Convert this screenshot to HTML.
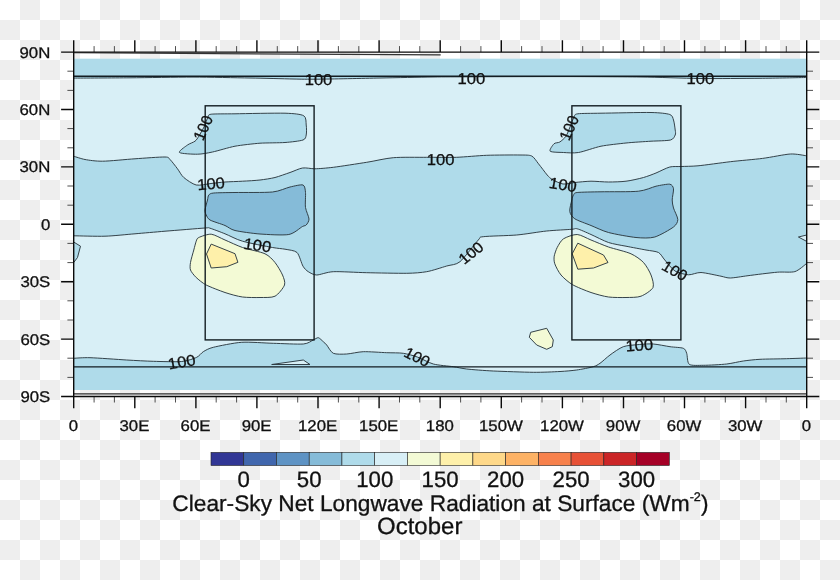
<!DOCTYPE html>
<html lang="en">
<head>
<meta charset="utf-8">
<title>Clear-Sky Net Longwave Radiation at Surface - October</title>
<style>
html,body{margin:0;padding:0;}
body{width:840px;height:580px;overflow:hidden;background-color:#fff;
background-image:conic-gradient(#eee 25%,#fff 0 50%,#eee 0 75%,#fff 0);
background-size:40px 40px;}
svg{display:block;position:absolute;left:0;top:0;}
</style>
</head>
<body>
<svg width="840" height="580" viewBox="0 0 840 580">
<defs><pattern id="chk" width="40" height="40" patternUnits="userSpaceOnUse"><rect width="40" height="40" fill="#fff"/><rect x="20" width="20" height="20" fill="#eee"/><rect y="20" width="20" height="20" fill="#eee"/></pattern></defs>
<rect width="840" height="580" fill="url(#chk)" shape-rendering="crispEdges"/>
<rect x="73.7" y="58.8" width="733.0" height="331.2" fill="#d8eff6"/>
<path d="M73.7 58.8 H806.7 L806.7 77.5 C800.6 77.6 773.9 78.2 760.0 78.3 C746.1 78.4 715.6 78.7 700.0 78.5 C684.4 78.3 658.2 77.2 640.0 77.0 C621.8 76.8 582.0 76.6 560.0 76.6 C538.0 76.6 487.5 76.7 471.0 76.8 C454.5 76.9 444.8 76.8 433.0 77.0 C421.2 77.2 394.9 77.7 380.0 78.0 C365.1 78.3 329.3 79.1 318.0 79.2 C306.7 79.3 301.8 79.2 293.0 79.0 C284.2 78.8 263.0 78.2 250.0 78.0 C237.0 77.8 208.6 77.1 193.0 77.1 C177.4 77.1 145.5 77.7 130.0 77.8 C114.5 77.9 81.0 78.1 73.7 78.1 Z" fill="#afdbea"/>
<path d="M73.7 358.3 C75.8 358.2 83.1 357.5 90.0 357.7 C96.9 357.9 118.5 359.5 126.7 360.0 C134.9 360.5 146.2 361.1 153.3 361.3 C160.5 361.5 176.1 362.0 181.7 361.5 C187.3 361.0 193.9 358.6 196.7 357.3 C199.5 356.0 201.1 353.0 203.3 351.7 C205.5 350.4 208.3 348.5 213.3 347.3 C218.3 346.1 233.9 342.8 241.7 342.3 C249.5 341.8 265.3 343.1 273.3 343.3 C281.3 343.5 298.1 344.4 303.3 344.0 C308.5 343.6 311.4 340.8 313.3 340.0 C315.2 339.2 317.0 337.5 318.3 337.7 C319.6 337.9 322.2 340.8 323.3 341.7 C324.4 342.6 325.4 343.5 326.7 345.0 C328.0 346.5 330.7 352.1 333.3 353.3 C335.9 354.5 342.8 354.2 346.7 354.0 C350.6 353.8 358.1 351.9 363.3 351.7 C368.5 351.5 381.5 352.5 386.7 352.7 C391.9 352.9 399.3 352.7 403.3 353.3 C407.3 353.9 413.4 355.6 417.3 357.0 C421.2 358.4 428.6 362.7 433.3 364.0 C438.0 365.3 449.0 366.1 453.3 366.7 C457.6 367.3 461.5 368.4 466.7 369.0 C471.9 369.6 484.6 370.6 493.3 371.0 C502.0 371.4 524.6 372.2 533.3 372.3 C542.0 372.4 554.4 371.8 560.0 371.5 C565.6 371.2 572.4 370.6 576.7 370.0 C581.0 369.4 590.3 367.6 593.3 366.7 C596.3 365.8 597.8 364.8 600.0 363.3 C602.2 361.8 607.0 357.2 610.0 355.0 C613.0 352.8 619.5 348.1 623.3 346.7 C627.1 345.3 635.4 344.9 639.3 344.5 C643.2 344.1 649.3 343.7 653.3 344.0 C657.3 344.3 666.1 346.1 670.0 346.7 C673.9 347.3 681.1 347.4 683.3 348.3 C685.5 349.2 685.9 351.2 686.7 353.3 C687.5 355.4 687.1 362.7 689.3 364.3 C691.5 365.9 698.4 365.3 703.3 365.3 C708.2 365.3 721.5 364.6 726.7 364.0 C731.9 363.4 739.0 361.6 743.3 361.0 C747.6 360.4 754.4 359.6 760.0 359.3 C765.6 359.0 780.6 358.9 786.7 358.7 C792.8 358.5 804.1 358.1 806.7 358.0 L806.7 390.0 H73.7 Z" fill="#afdbea"/>
<path d="M73.7 156.2 C75.2 156.7 81.3 158.8 85.0 159.5 C88.7 160.2 96.0 161.3 102.5 161.2 C109.0 161.2 126.9 159.3 135.0 158.8 C143.1 158.2 160.4 156.9 165.0 157.0 C169.6 157.1 168.4 158.0 170.0 159.5 C171.6 161.0 175.7 166.4 177.5 168.8 C179.3 171.1 181.3 175.4 183.8 177.5 C186.2 179.6 192.7 184.2 196.2 185.0 C199.8 185.8 207.3 183.9 211.0 183.5 C214.7 183.1 220.9 182.3 225.0 182.0 C229.1 181.7 237.9 181.5 242.5 181.2 C247.1 181.0 255.8 180.5 260.0 180.0 C264.2 179.5 271.1 178.5 275.0 177.5 C278.9 176.5 286.4 173.7 290.0 172.5 C293.6 171.3 299.2 168.5 302.5 168.0 C305.8 167.5 311.0 168.8 315.0 168.8 C319.0 168.7 326.6 168.1 333.3 167.3 C340.0 166.5 358.9 163.5 366.7 162.3 C374.5 161.1 385.5 158.3 393.3 157.7 C401.1 157.0 418.5 157.4 426.7 157.3 C434.9 157.2 448.9 157.6 456.7 157.3 C464.5 157.0 478.5 155.6 486.7 155.3 C494.9 155.0 514.1 154.9 520.0 155.0 C525.9 155.1 529.3 154.9 531.7 156.0 C534.1 157.1 536.5 161.3 538.5 163.8 C540.5 166.2 545.5 173.0 547.2 175.0 C549.0 177.0 550.2 178.3 552.2 179.5 C554.3 180.7 560.1 183.6 563.0 184.0 C565.9 184.4 571.1 182.9 574.8 182.5 C578.4 182.1 586.6 181.3 591.0 181.2 C595.4 181.2 604.0 182.0 608.5 182.0 C613.0 182.0 621.5 181.8 626.0 181.2 C630.5 180.7 639.6 178.6 643.5 177.5 C647.4 176.4 652.6 174.4 656.0 173.0 C659.4 171.6 666.5 167.8 669.8 167.0 C673.0 166.2 677.3 166.7 681.0 166.5 C684.7 166.3 691.6 166.4 698.0 165.8 C704.4 165.2 722.0 162.7 730.4 161.7 C738.8 160.7 754.8 159.4 762.6 158.4 C770.4 157.4 784.8 154.3 790.5 154.0 C796.2 153.7 804.6 155.6 806.7 155.8 L806.7 263.4 C805.2 264.5 798.7 270.5 794.9 271.6 C791.1 272.7 783.4 271.7 777.3 272.2 C771.2 272.7 754.1 274.9 748.0 275.7 C741.9 276.5 733.9 277.9 730.4 278.0 C726.9 278.1 724.8 277.0 721.0 276.2 C717.2 275.5 705.2 272.7 701.0 272.5 C696.8 272.3 691.9 275.0 688.5 274.8 C685.1 274.6 678.1 272.9 675.0 271.0 C671.9 269.1 666.9 262.4 664.8 260.0 C662.6 257.6 660.9 253.8 658.5 252.5 C656.1 251.2 650.2 250.8 646.0 250.0 C641.8 249.2 630.9 247.2 626.0 246.2 C621.1 245.3 613.0 244.0 608.5 242.5 C604.0 241.0 595.1 236.3 591.0 234.5 C586.9 232.7 579.8 229.4 577.2 228.8 C574.7 228.1 575.7 229.0 571.7 229.3 C567.7 229.6 553.9 230.3 546.7 231.0 C539.6 231.7 524.9 234.3 516.7 235.0 C508.5 235.7 488.3 236.0 483.3 236.7 C478.3 237.3 481.3 236.8 478.3 240.0 C475.3 243.2 464.1 258.3 460.0 261.7 C455.9 265.1 451.0 264.7 446.7 266.0 C442.4 267.3 431.9 270.8 426.7 271.7 C421.5 272.6 414.5 273.2 406.7 273.3 C398.9 273.4 376.2 272.9 366.7 272.7 C357.2 272.5 339.8 271.4 333.3 271.7 C326.8 272.0 319.9 275.0 316.7 275.0 C313.4 275.0 310.1 272.8 308.3 271.7 C306.5 270.6 304.5 268.7 303.0 266.2 C301.5 263.8 299.3 254.7 297.0 252.5 C294.7 250.3 288.2 249.9 285.0 249.2 C281.8 248.6 278.0 248.5 272.5 247.5 C267.0 246.5 248.7 243.0 242.5 241.2 C236.3 239.5 229.2 235.4 225.0 233.8 C220.8 232.1 212.6 229.0 210.0 228.2 C207.4 227.5 210.8 227.6 205.0 228.0 C199.2 228.4 174.1 230.5 165.0 231.2 C155.9 232.0 142.8 233.1 135.0 233.8 C127.2 234.4 113.0 236.0 105.0 236.2 C97.0 236.5 77.8 235.8 73.7 235.8 Z" fill="#afdbea"/>
<path d="M806.7 235.0 L798.4 237.0 L806.7 241.4 Z" fill="#d8eff6"/>
<path d="M73.7 242.0 L80.5 246.2 L77.5 257.5 L73.7 262.5 Z" fill="#afdbea"/>
<path d="M271.7 364.5 L303.3 360.0 L310.0 364.5 Z" fill="#d8eff6"/>
<path d="M211.2 114.2 C214.8 113.8 225.4 113.9 235.0 113.8 C244.6 113.6 276.1 113.0 285.0 113.2 C293.9 113.5 301.0 114.2 303.8 115.8 C306.5 117.3 305.9 122.5 306.2 125.0 C306.6 127.5 306.7 133.1 306.2 135.0 C305.8 136.9 305.8 139.0 303.0 140.0 C300.2 141.0 290.6 142.1 285.0 142.5 C279.4 142.9 266.5 142.8 260.0 143.2 C253.5 143.7 241.2 145.1 235.0 146.2 C228.8 147.4 217.4 151.0 212.5 152.0 C207.6 153.0 201.8 154.2 197.5 154.2 C193.2 154.3 180.8 153.7 179.5 152.5 C178.2 151.3 185.5 146.5 187.5 145.0 C189.5 143.5 193.5 142.4 195.0 141.2 C196.5 140.1 197.6 138.1 198.8 136.2 C199.9 134.4 202.8 129.5 204.0 127.0 C205.2 124.5 207.1 118.7 208.0 117.0 C208.9 115.3 207.7 114.7 211.2 114.2 Z" fill="#afdbea"/>
<path d="M577.8 113.8 C581.3 113.3 591.5 113.4 601.0 113.2 C610.5 113.1 642.1 112.3 651.0 112.5 C659.9 112.7 666.8 113.5 669.8 114.5 C672.7 115.5 672.8 118.0 673.5 120.0 C674.2 122.0 675.0 128.1 675.2 130.0 C675.5 131.9 675.9 133.7 675.2 135.0 C674.6 136.3 673.7 139.2 670.5 140.0 C667.3 140.8 656.8 140.9 651.0 141.2 C645.2 141.6 632.5 142.3 626.0 143.0 C619.5 143.7 607.2 145.0 601.0 146.2 C594.8 147.5 583.4 151.7 578.5 152.5 C573.6 153.3 567.2 152.7 563.5 152.5 C559.8 152.3 551.5 152.4 550.2 151.2 C549.0 150.1 552.8 145.0 554.0 143.8 C555.2 142.5 558.2 143.0 559.8 142.0 C561.3 141.0 564.7 138.2 566.0 136.2 C567.3 134.3 569.0 129.5 570.0 127.0 C571.0 124.5 573.0 118.7 574.0 117.0 C575.0 115.3 574.2 114.2 577.8 113.8 Z" fill="#afdbea"/>
<path d="M208.8 195.0 C209.6 194.1 210.3 193.3 213.8 193.0 C217.2 192.7 227.4 192.6 235.0 192.5 C242.6 192.4 265.4 192.7 272.5 192.0 C279.6 191.3 286.0 187.9 290.0 187.0 C294.0 186.1 301.0 184.3 303.0 185.0 C305.0 185.7 305.2 189.6 305.5 192.5 C305.8 195.4 305.0 204.1 305.5 207.5 C306.0 210.9 308.9 216.7 309.0 219.0 C309.1 221.3 307.1 224.0 306.2 225.0 C305.4 226.0 304.8 225.3 302.5 226.5 C300.2 227.7 294.3 233.5 288.8 234.5 C283.2 235.5 267.0 234.5 260.0 234.0 C253.0 233.5 239.6 231.6 235.0 230.5 C230.4 229.4 228.2 226.9 225.0 225.5 C221.8 224.1 212.4 221.4 210.0 220.0 C207.6 218.6 206.9 216.3 206.2 215.0 C205.6 213.7 204.8 211.9 205.0 210.0 C205.2 208.1 207.0 201.9 207.5 200.0 C208.0 198.1 207.9 195.9 208.8 195.0 Z" fill="#85bbd8"/>
<path d="M573.5 195.0 C574.2 194.0 573.7 192.9 577.2 192.5 C580.8 192.1 593.0 191.9 601.0 191.8 C609.0 191.6 631.4 192.0 638.5 191.2 C645.6 190.5 651.9 187.2 656.0 186.2 C660.1 185.3 667.5 183.9 669.8 184.2 C672.0 184.6 673.2 186.7 673.5 188.8 C673.8 190.8 672.2 197.5 672.2 200.0 C672.2 202.5 672.8 205.5 673.5 208.0 C674.2 210.5 677.8 217.0 677.8 219.5 C677.8 222.0 676.5 224.7 673.5 227.0 C670.5 229.3 659.6 235.6 654.8 237.0 C649.9 238.4 642.0 238.1 636.0 237.5 C630.0 236.9 614.4 234.1 608.5 232.5 C602.6 230.9 595.4 227.3 591.0 225.5 C586.6 223.7 577.5 220.6 574.8 218.8 C572.0 216.9 570.1 213.9 569.8 211.5 C569.4 209.1 571.3 202.1 571.8 200.0 C572.2 197.9 572.8 196.0 573.5 195.0 Z" fill="#85bbd8"/>
<path d="M198.8 237.5 C200.7 236.6 207.8 233.9 211.2 234.2 C214.7 234.6 220.9 238.3 225.0 240.0 C229.1 241.7 237.3 245.7 242.5 247.5 C247.7 249.3 260.8 251.8 265.0 253.8 C269.2 255.7 272.7 259.7 275.0 262.5 C277.3 265.3 281.3 272.1 282.5 275.0 C283.7 277.9 285.5 282.2 284.5 285.0 C283.5 287.8 278.2 294.6 275.0 296.2 C271.8 297.9 264.2 297.4 260.0 297.5 C255.8 297.6 247.1 297.6 242.5 297.0 C237.9 296.4 229.7 294.1 225.0 292.5 C220.3 290.9 210.0 286.9 206.2 285.0 C202.5 283.1 198.3 279.4 196.2 277.5 C194.2 275.6 191.2 271.9 190.5 270.0 C189.8 268.1 190.1 265.1 190.5 262.5 C190.9 259.9 193.0 252.8 193.8 250.0 C194.5 247.2 195.6 242.9 196.2 241.2 C196.9 239.6 196.8 238.4 198.8 237.5 Z" fill="#f3fad5"/>
<path d="M563.5 238.8 C566.1 237.1 573.7 234.3 577.2 234.5 C580.8 234.7 586.9 238.4 591.0 240.0 C595.1 241.6 603.3 245.2 608.5 247.0 C613.7 248.8 626.5 251.7 631.0 253.8 C635.5 255.8 640.9 259.7 643.5 262.5 C646.1 265.3 649.8 271.8 651.0 275.0 C652.2 278.2 654.3 284.7 653.0 287.5 C651.7 290.3 644.5 294.9 641.0 296.2 C637.5 297.6 630.2 297.4 626.0 297.5 C621.8 297.6 613.0 297.6 608.5 297.0 C604.0 296.4 595.7 294.1 591.0 292.5 C586.3 290.9 576.1 286.8 572.2 284.5 C568.4 282.2 563.3 277.7 561.0 275.0 C558.7 272.3 555.6 266.2 554.8 263.8 C553.9 261.3 553.9 258.4 554.2 256.2 C554.6 254.1 556.0 249.8 557.2 247.5 C558.5 245.2 560.9 240.4 563.5 238.8 Z" fill="#f3fad5"/>
<path d="M211.2 244.1 L235.0 253.7 L237.9 262.3 L226.8 266.7 L211.2 268.0 L206.5 254.0 Z" fill="#fef0aa"/>
<path d="M577.8 243.2 L603.5 255.0 L608.0 262.5 L593.5 268.0 L577.8 269.2 L572.2 253.8 Z" fill="#fef0aa"/>
<path d="M530.7 332.3 L546.7 328.3 L553.3 340.0 L552.3 346.7 L546.7 349.3 L536.7 345.0 L529.3 337.3 Z" fill="#f3fad5"/>
<g fill="none" stroke="#2b3940" stroke-width="0.95" stroke-linejoin="round">
<path d="M73.7 78.1 C81.0 78.1 114.5 77.9 130.0 77.8 C145.5 77.7 177.4 77.1 193.0 77.1 C208.6 77.1 237.0 77.8 250.0 78.0 C263.0 78.2 284.2 78.8 293.0 79.0 C301.8 79.2 306.7 79.3 318.0 79.2 C329.3 79.1 365.1 78.3 380.0 78.0 C394.9 77.7 421.2 77.2 433.0 77.0 C444.8 76.8 454.5 76.9 471.0 76.8 C487.5 76.7 538.0 76.6 560.0 76.6 C582.0 76.6 621.8 76.8 640.0 77.0 C658.2 77.2 684.4 78.3 700.0 78.5 C715.6 78.7 746.1 78.4 760.0 78.3 C773.9 78.2 800.6 77.6 806.7 77.5"/>
<path d="M73.7 358.3 C75.8 358.2 83.1 357.5 90.0 357.7 C96.9 357.9 118.5 359.5 126.7 360.0 C134.9 360.5 146.2 361.1 153.3 361.3 C160.5 361.5 176.1 362.0 181.7 361.5 C187.3 361.0 193.9 358.6 196.7 357.3 C199.5 356.0 201.1 353.0 203.3 351.7 C205.5 350.4 208.3 348.5 213.3 347.3 C218.3 346.1 233.9 342.8 241.7 342.3 C249.5 341.8 265.3 343.1 273.3 343.3 C281.3 343.5 298.1 344.4 303.3 344.0 C308.5 343.6 311.4 340.8 313.3 340.0 C315.2 339.2 317.0 337.5 318.3 337.7 C319.6 337.9 322.2 340.8 323.3 341.7 C324.4 342.6 325.4 343.5 326.7 345.0 C328.0 346.5 330.7 352.1 333.3 353.3 C335.9 354.5 342.8 354.2 346.7 354.0 C350.6 353.8 358.1 351.9 363.3 351.7 C368.5 351.5 381.5 352.5 386.7 352.7 C391.9 352.9 399.3 352.7 403.3 353.3 C407.3 353.9 413.4 355.6 417.3 357.0 C421.2 358.4 428.6 362.7 433.3 364.0 C438.0 365.3 449.0 366.1 453.3 366.7 C457.6 367.3 461.5 368.4 466.7 369.0 C471.9 369.6 484.6 370.6 493.3 371.0 C502.0 371.4 524.6 372.2 533.3 372.3 C542.0 372.4 554.4 371.8 560.0 371.5 C565.6 371.2 572.4 370.6 576.7 370.0 C581.0 369.4 590.3 367.6 593.3 366.7 C596.3 365.8 597.8 364.8 600.0 363.3 C602.2 361.8 607.0 357.2 610.0 355.0 C613.0 352.8 619.5 348.1 623.3 346.7 C627.1 345.3 635.4 344.9 639.3 344.5 C643.2 344.1 649.3 343.7 653.3 344.0 C657.3 344.3 666.1 346.1 670.0 346.7 C673.9 347.3 681.1 347.4 683.3 348.3 C685.5 349.2 685.9 351.2 686.7 353.3 C687.5 355.4 687.1 362.7 689.3 364.3 C691.5 365.9 698.4 365.3 703.3 365.3 C708.2 365.3 721.5 364.6 726.7 364.0 C731.9 363.4 739.0 361.6 743.3 361.0 C747.6 360.4 754.4 359.6 760.0 359.3 C765.6 359.0 780.6 358.9 786.7 358.7 C792.8 358.5 804.1 358.1 806.7 358.0"/>
<path d="M73.7 156.2 C75.2 156.7 81.3 158.8 85.0 159.5 C88.7 160.2 96.0 161.3 102.5 161.2 C109.0 161.2 126.9 159.3 135.0 158.8 C143.1 158.2 160.4 156.9 165.0 157.0 C169.6 157.1 168.4 158.0 170.0 159.5 C171.6 161.0 175.7 166.4 177.5 168.8 C179.3 171.1 181.3 175.4 183.8 177.5 C186.2 179.6 192.7 184.2 196.2 185.0 C199.8 185.8 207.3 183.9 211.0 183.5 C214.7 183.1 220.9 182.3 225.0 182.0 C229.1 181.7 237.9 181.5 242.5 181.2 C247.1 181.0 255.8 180.5 260.0 180.0 C264.2 179.5 271.1 178.5 275.0 177.5 C278.9 176.5 286.4 173.7 290.0 172.5 C293.6 171.3 299.2 168.5 302.5 168.0 C305.8 167.5 311.0 168.8 315.0 168.8 C319.0 168.7 326.6 168.1 333.3 167.3 C340.0 166.5 358.9 163.5 366.7 162.3 C374.5 161.1 385.5 158.3 393.3 157.7 C401.1 157.0 418.5 157.4 426.7 157.3 C434.9 157.2 448.9 157.6 456.7 157.3 C464.5 157.0 478.5 155.6 486.7 155.3 C494.9 155.0 514.1 154.9 520.0 155.0 C525.9 155.1 529.3 154.9 531.7 156.0 C534.1 157.1 536.5 161.3 538.5 163.8 C540.5 166.2 545.5 173.0 547.2 175.0 C549.0 177.0 550.2 178.3 552.2 179.5 C554.3 180.7 560.1 183.6 563.0 184.0 C565.9 184.4 571.1 182.9 574.8 182.5 C578.4 182.1 586.6 181.3 591.0 181.2 C595.4 181.2 604.0 182.0 608.5 182.0 C613.0 182.0 621.5 181.8 626.0 181.2 C630.5 180.7 639.6 178.6 643.5 177.5 C647.4 176.4 652.6 174.4 656.0 173.0 C659.4 171.6 666.5 167.8 669.8 167.0 C673.0 166.2 677.3 166.7 681.0 166.5 C684.7 166.3 691.6 166.4 698.0 165.8 C704.4 165.2 722.0 162.7 730.4 161.7 C738.8 160.7 754.8 159.4 762.6 158.4 C770.4 157.4 784.8 154.3 790.5 154.0 C796.2 153.7 804.6 155.6 806.7 155.8"/>
<path d="M806.7 263.4 C805.2 264.5 798.7 270.5 794.9 271.6 C791.1 272.7 783.4 271.7 777.3 272.2 C771.2 272.7 754.1 274.9 748.0 275.7 C741.9 276.5 733.9 277.9 730.4 278.0 C726.9 278.1 724.8 277.0 721.0 276.2 C717.2 275.5 705.2 272.7 701.0 272.5 C696.8 272.3 691.9 275.0 688.5 274.8 C685.1 274.6 678.1 272.9 675.0 271.0 C671.9 269.1 666.9 262.4 664.8 260.0 C662.6 257.6 660.9 253.8 658.5 252.5 C656.1 251.2 650.2 250.8 646.0 250.0 C641.8 249.2 630.9 247.2 626.0 246.2 C621.1 245.3 613.0 244.0 608.5 242.5 C604.0 241.0 595.1 236.3 591.0 234.5 C586.9 232.7 579.8 229.4 577.2 228.8 C574.7 228.1 575.7 229.0 571.7 229.3 C567.7 229.6 553.9 230.3 546.7 231.0 C539.6 231.7 524.9 234.3 516.7 235.0 C508.5 235.7 488.3 236.0 483.3 236.7 C478.3 237.3 481.3 236.8 478.3 240.0 C475.3 243.2 464.1 258.3 460.0 261.7 C455.9 265.1 451.0 264.7 446.7 266.0 C442.4 267.3 431.9 270.8 426.7 271.7 C421.5 272.6 414.5 273.2 406.7 273.3 C398.9 273.4 376.2 272.9 366.7 272.7 C357.2 272.5 339.8 271.4 333.3 271.7 C326.8 272.0 319.9 275.0 316.7 275.0 C313.4 275.0 310.1 272.8 308.3 271.7 C306.5 270.6 304.5 268.7 303.0 266.2 C301.5 263.8 299.3 254.7 297.0 252.5 C294.7 250.3 288.2 249.9 285.0 249.2 C281.8 248.6 278.0 248.5 272.5 247.5 C267.0 246.5 248.7 243.0 242.5 241.2 C236.3 239.5 229.2 235.4 225.0 233.8 C220.8 232.1 212.6 229.0 210.0 228.2 C207.4 227.5 210.8 227.6 205.0 228.0 C199.2 228.4 174.1 230.5 165.0 231.2 C155.9 232.0 142.8 233.1 135.0 233.8 C127.2 234.4 113.0 236.0 105.0 236.2 C97.0 236.5 77.8 235.8 73.7 235.8"/>
<path d="M806.7 235.0 L798.4 237.0 L806.7 241.4"/>
<path d="M73.7 242.0 L80.5 246.2 L77.5 257.5 L73.7 262.5"/>
<path d="M211.2 114.2 C214.8 113.8 225.4 113.9 235.0 113.8 C244.6 113.6 276.1 113.0 285.0 113.2 C293.9 113.5 301.0 114.2 303.8 115.8 C306.5 117.3 305.9 122.5 306.2 125.0 C306.6 127.5 306.7 133.1 306.2 135.0 C305.8 136.9 305.8 139.0 303.0 140.0 C300.2 141.0 290.6 142.1 285.0 142.5 C279.4 142.9 266.5 142.8 260.0 143.2 C253.5 143.7 241.2 145.1 235.0 146.2 C228.8 147.4 217.4 151.0 212.5 152.0 C207.6 153.0 201.8 154.2 197.5 154.2 C193.2 154.3 180.8 153.7 179.5 152.5 C178.2 151.3 185.5 146.5 187.5 145.0 C189.5 143.5 193.5 142.4 195.0 141.2 C196.5 140.1 197.6 138.1 198.8 136.2 C199.9 134.4 202.8 129.5 204.0 127.0 C205.2 124.5 207.1 118.7 208.0 117.0 C208.9 115.3 207.7 114.7 211.2 114.2 Z"/>
<path d="M577.8 113.8 C581.3 113.3 591.5 113.4 601.0 113.2 C610.5 113.1 642.1 112.3 651.0 112.5 C659.9 112.7 666.8 113.5 669.8 114.5 C672.7 115.5 672.8 118.0 673.5 120.0 C674.2 122.0 675.0 128.1 675.2 130.0 C675.5 131.9 675.9 133.7 675.2 135.0 C674.6 136.3 673.7 139.2 670.5 140.0 C667.3 140.8 656.8 140.9 651.0 141.2 C645.2 141.6 632.5 142.3 626.0 143.0 C619.5 143.7 607.2 145.0 601.0 146.2 C594.8 147.5 583.4 151.7 578.5 152.5 C573.6 153.3 567.2 152.7 563.5 152.5 C559.8 152.3 551.5 152.4 550.2 151.2 C549.0 150.1 552.8 145.0 554.0 143.8 C555.2 142.5 558.2 143.0 559.8 142.0 C561.3 141.0 564.7 138.2 566.0 136.2 C567.3 134.3 569.0 129.5 570.0 127.0 C571.0 124.5 573.0 118.7 574.0 117.0 C575.0 115.3 574.2 114.2 577.8 113.8 Z"/>
<path d="M208.8 195.0 C209.6 194.1 210.3 193.3 213.8 193.0 C217.2 192.7 227.4 192.6 235.0 192.5 C242.6 192.4 265.4 192.7 272.5 192.0 C279.6 191.3 286.0 187.9 290.0 187.0 C294.0 186.1 301.0 184.3 303.0 185.0 C305.0 185.7 305.2 189.6 305.5 192.5 C305.8 195.4 305.0 204.1 305.5 207.5 C306.0 210.9 308.9 216.7 309.0 219.0 C309.1 221.3 307.1 224.0 306.2 225.0 C305.4 226.0 304.8 225.3 302.5 226.5 C300.2 227.7 294.3 233.5 288.8 234.5 C283.2 235.5 267.0 234.5 260.0 234.0 C253.0 233.5 239.6 231.6 235.0 230.5 C230.4 229.4 228.2 226.9 225.0 225.5 C221.8 224.1 212.4 221.4 210.0 220.0 C207.6 218.6 206.9 216.3 206.2 215.0 C205.6 213.7 204.8 211.9 205.0 210.0 C205.2 208.1 207.0 201.9 207.5 200.0 C208.0 198.1 207.9 195.9 208.8 195.0 Z"/>
<path d="M573.5 195.0 C574.2 194.0 573.7 192.9 577.2 192.5 C580.8 192.1 593.0 191.9 601.0 191.8 C609.0 191.6 631.4 192.0 638.5 191.2 C645.6 190.5 651.9 187.2 656.0 186.2 C660.1 185.3 667.5 183.9 669.8 184.2 C672.0 184.6 673.2 186.7 673.5 188.8 C673.8 190.8 672.2 197.5 672.2 200.0 C672.2 202.5 672.8 205.5 673.5 208.0 C674.2 210.5 677.8 217.0 677.8 219.5 C677.8 222.0 676.5 224.7 673.5 227.0 C670.5 229.3 659.6 235.6 654.8 237.0 C649.9 238.4 642.0 238.1 636.0 237.5 C630.0 236.9 614.4 234.1 608.5 232.5 C602.6 230.9 595.4 227.3 591.0 225.5 C586.6 223.7 577.5 220.6 574.8 218.8 C572.0 216.9 570.1 213.9 569.8 211.5 C569.4 209.1 571.3 202.1 571.8 200.0 C572.2 197.9 572.8 196.0 573.5 195.0 Z"/>
<path d="M198.8 237.5 C200.7 236.6 207.8 233.9 211.2 234.2 C214.7 234.6 220.9 238.3 225.0 240.0 C229.1 241.7 237.3 245.7 242.5 247.5 C247.7 249.3 260.8 251.8 265.0 253.8 C269.2 255.7 272.7 259.7 275.0 262.5 C277.3 265.3 281.3 272.1 282.5 275.0 C283.7 277.9 285.5 282.2 284.5 285.0 C283.5 287.8 278.2 294.6 275.0 296.2 C271.8 297.9 264.2 297.4 260.0 297.5 C255.8 297.6 247.1 297.6 242.5 297.0 C237.9 296.4 229.7 294.1 225.0 292.5 C220.3 290.9 210.0 286.9 206.2 285.0 C202.5 283.1 198.3 279.4 196.2 277.5 C194.2 275.6 191.2 271.9 190.5 270.0 C189.8 268.1 190.1 265.1 190.5 262.5 C190.9 259.9 193.0 252.8 193.8 250.0 C194.5 247.2 195.6 242.9 196.2 241.2 C196.9 239.6 196.8 238.4 198.8 237.5 Z"/>
<path d="M563.5 238.8 C566.1 237.1 573.7 234.3 577.2 234.5 C580.8 234.7 586.9 238.4 591.0 240.0 C595.1 241.6 603.3 245.2 608.5 247.0 C613.7 248.8 626.5 251.7 631.0 253.8 C635.5 255.8 640.9 259.7 643.5 262.5 C646.1 265.3 649.8 271.8 651.0 275.0 C652.2 278.2 654.3 284.7 653.0 287.5 C651.7 290.3 644.5 294.9 641.0 296.2 C637.5 297.6 630.2 297.4 626.0 297.5 C621.8 297.6 613.0 297.6 608.5 297.0 C604.0 296.4 595.7 294.1 591.0 292.5 C586.3 290.9 576.1 286.8 572.2 284.5 C568.4 282.2 563.3 277.7 561.0 275.0 C558.7 272.3 555.6 266.2 554.8 263.8 C553.9 261.3 553.9 258.4 554.2 256.2 C554.6 254.1 556.0 249.8 557.2 247.5 C558.5 245.2 560.9 240.4 563.5 238.8 Z"/>
<path d="M271.7 364.5 L303.3 360.0 L310.0 364.5 Z"/>
<path d="M211.2 244.1 L235.0 253.7 L237.9 262.3 L226.8 266.7 L211.2 268.0 L206.5 254.0 Z"/>
<path d="M577.8 243.2 L603.5 255.0 L608.0 262.5 L593.5 268.0 L577.8 269.2 L572.2 253.8 Z"/>
<path d="M530.7 332.3 L546.7 328.3 L553.3 340.0 L552.3 346.7 L546.7 349.3 L536.7 345.0 L529.3 337.3 Z"/>
</g>
<g fill="none" stroke="#131d22" stroke-width="1.4">
<path d="M73.7 76.3 H806.7 M73.7 366.9 H806.7"/>
<rect x="205.2" y="105.8" width="108.9" height="234.1"/>
<rect x="571.9" y="105.8" width="109.0" height="234.1"/>
</g>
<path d="M73.7 52.8 L440.7 54.9" stroke="#333" stroke-width="1.15" fill="none"/>
<path d="M73.7 393.85 H806.7" stroke="#2c2c2c" stroke-width="1.1" fill="none"/>
<path d="M94.1 52.1 V46.1 M94.1 396.5 V402.5 M114.4 52.1 V46.1 M114.4 396.5 V402.5 M155.1 52.1 V46.1 M155.1 396.5 V402.5 M175.5 52.1 V46.1 M175.5 396.5 V402.5 M216.2 52.1 V46.1 M216.2 396.5 V402.5 M236.6 52.1 V46.1 M236.6 396.5 V402.5 M277.3 52.1 V46.1 M277.3 396.5 V402.5 M297.7 52.1 V46.1 M297.7 396.5 V402.5 M338.4 52.1 V46.1 M338.4 396.5 V402.5 M358.8 52.1 V46.1 M358.8 396.5 V402.5 M399.5 52.1 V46.1 M399.5 396.5 V402.5 M419.8 52.1 V46.1 M419.8 396.5 V402.5 M460.6 52.1 V46.1 M460.6 396.5 V402.5 M480.9 52.1 V46.1 M480.9 396.5 V402.5 M521.6 52.1 V46.1 M521.6 396.5 V402.5 M542.0 52.1 V46.1 M542.0 396.5 V402.5 M582.7 52.1 V46.1 M582.7 396.5 V402.5 M603.1 52.1 V46.1 M603.1 396.5 V402.5 M643.8 52.1 V46.1 M643.8 396.5 V402.5 M664.2 52.1 V46.1 M664.2 396.5 V402.5 M704.9 52.1 V46.1 M704.9 396.5 V402.5 M725.3 52.1 V46.1 M725.3 396.5 V402.5 M766.0 52.1 V46.1 M766.0 396.5 V402.5 M786.3 52.1 V46.1 M786.3 396.5 V402.5 M73.7 377.4 H67.4 M806.7 377.4 H813.0 M73.7 358.2 H67.4 M806.7 358.2 H813.0 M73.7 320.0 H67.4 M806.7 320.0 H813.0 M73.7 300.8 H67.4 M806.7 300.8 H813.0 M73.7 262.6 H67.4 M806.7 262.6 H813.0 M73.7 243.4 H67.4 M806.7 243.4 H813.0 M73.7 205.2 H67.4 M806.7 205.2 H813.0 M73.7 186.0 H67.4 M806.7 186.0 H813.0 M73.7 147.8 H67.4 M806.7 147.8 H813.0 M73.7 128.6 H67.4 M806.7 128.6 H813.0 M73.7 90.4 H67.4 M806.7 90.4 H813.0 M73.7 71.2 H67.4 M806.7 71.2 H813.0" fill="none" stroke="#3c3c3c" stroke-width="0.9"/>
<path d="M73.7 52.1 H806.7 V396.5 H73.7 Z M73.7 52.1 V40.3 M73.7 396.5 V408.3 M134.8 52.1 V40.3 M134.8 396.5 V408.3 M195.9 52.1 V40.3 M195.9 396.5 V408.3 M256.9 52.1 V40.3 M256.9 396.5 V408.3 M318.0 52.1 V40.3 M318.0 396.5 V408.3 M379.1 52.1 V40.3 M379.1 396.5 V408.3 M440.2 52.1 V40.3 M440.2 396.5 V408.3 M501.3 52.1 V40.3 M501.3 396.5 V408.3 M562.4 52.1 V40.3 M562.4 396.5 V408.3 M623.5 52.1 V40.3 M623.5 396.5 V408.3 M684.5 52.1 V40.3 M684.5 396.5 V408.3 M745.6 52.1 V40.3 M745.6 396.5 V408.3 M806.7 52.1 V40.3 M806.7 396.5 V408.3 M73.7 396.5 H61.1 M806.7 396.5 H819.3 M73.7 339.1 H61.1 M806.7 339.1 H819.3 M73.7 281.7 H61.1 M806.7 281.7 H819.3 M73.7 224.3 H61.1 M806.7 224.3 H819.3 M73.7 166.9 H61.1 M806.7 166.9 H819.3 M73.7 109.5 H61.1 M806.7 109.5 H819.3 M73.7 52.1 H61.1 M806.7 52.1 H819.3" fill="none" stroke="#0a0a0a" stroke-width="1.4"/>
<g font-family="'Liberation Sans', Arial, Helvetica, sans-serif" fill="#111" stroke="#111" stroke-width="0.3" text-rendering="geometricPrecision">
<text transform="translate(50.3 57.6) scale(1.090 1)" font-size="15.4" text-anchor="end">90N</text>
<text transform="translate(50.3 115.0) scale(1.090 1)" font-size="15.4" text-anchor="end">60N</text>
<text transform="translate(50.3 172.4) scale(1.090 1)" font-size="15.4" text-anchor="end">30N</text>
<text transform="translate(50.3 229.8) scale(1.090 1)" font-size="15.4" text-anchor="end">0</text>
<text transform="translate(50.3 287.2) scale(1.090 1)" font-size="15.4" text-anchor="end">30S</text>
<text transform="translate(50.3 344.6) scale(1.090 1)" font-size="15.4" text-anchor="end">60S</text>
<text transform="translate(50.3 402.0) scale(1.090 1)" font-size="15.4" text-anchor="end">90S</text>
<text transform="translate(73.3 430.9) scale(1.090 1)" font-size="15.4" text-anchor="middle">0</text>
<text transform="translate(134.4 430.9) scale(1.090 1)" font-size="15.4" text-anchor="middle">30E</text>
<text transform="translate(195.5 430.9) scale(1.090 1)" font-size="15.4" text-anchor="middle">60E</text>
<text transform="translate(256.6 430.9) scale(1.090 1)" font-size="15.4" text-anchor="middle">90E</text>
<text transform="translate(317.6 430.9) scale(1.090 1)" font-size="15.4" text-anchor="middle">120E</text>
<text transform="translate(378.7 430.9) scale(1.090 1)" font-size="15.4" text-anchor="middle">150E</text>
<text transform="translate(439.8 430.9) scale(1.090 1)" font-size="15.4" text-anchor="middle">180</text>
<text transform="translate(500.9 430.9) scale(1.090 1)" font-size="15.4" text-anchor="middle">150W</text>
<text transform="translate(562.0 430.9) scale(1.090 1)" font-size="15.4" text-anchor="middle">120W</text>
<text transform="translate(623.1 430.9) scale(1.090 1)" font-size="15.4" text-anchor="middle">90W</text>
<text transform="translate(684.1 430.9) scale(1.090 1)" font-size="15.4" text-anchor="middle">60W</text>
<text transform="translate(745.2 430.9) scale(1.090 1)" font-size="15.4" text-anchor="middle">30W</text>
<text transform="translate(806.3 430.9) scale(1.090 1)" font-size="15.4" text-anchor="middle">0</text>
<text transform="translate(318.5 79.6) scale(1.064 1)" font-size="15.6" text-anchor="middle" y="5.6">100</text>
<text transform="translate(471.3 78.0) scale(1.064 1)" font-size="15.6" text-anchor="middle" y="5.6">100</text>
<text transform="translate(700.3 78.2) scale(1.064 1)" font-size="15.6" text-anchor="middle" y="5.6">100</text>
<text transform="translate(202.8 127.7) scale(1.064 1) rotate(-67)" font-size="15.0" text-anchor="middle" y="5.6">100</text>
<text transform="translate(568.8 127.7) scale(1.064 1) rotate(-67)" font-size="15.0" text-anchor="middle" y="5.6">100</text>
<text transform="translate(211.0 183.5) scale(1.064 1) rotate(-5)" font-size="15.6" text-anchor="middle" y="5.6">100</text>
<text transform="translate(563.0 184.5) scale(1.064 1) rotate(10)" font-size="15.6" text-anchor="middle" y="5.6">100</text>
<text transform="translate(440.7 159.0) scale(1.064 1)" font-size="15.6" text-anchor="middle" y="5.6">100</text>
<text transform="translate(257.5 245.0) scale(1.064 1) rotate(8)" font-size="15.6" text-anchor="middle" y="5.6">100</text>
<text transform="translate(470.7 252.6) scale(1.064 1) rotate(-40)" font-size="15.0" text-anchor="middle" y="5.6">100</text>
<text transform="translate(675.0 270.4) scale(1.064 1) rotate(30)" font-size="15.0" text-anchor="middle" y="5.6">100</text>
<text transform="translate(181.7 361.7) scale(1.064 1) rotate(-10)" font-size="15.6" text-anchor="middle" y="5.6">100</text>
<text transform="translate(417.3 356.7) scale(1.064 1) rotate(27)" font-size="15.0" text-anchor="middle" y="5.6">100</text>
<text transform="translate(639.3 345.0) scale(1.064 1) rotate(-4)" font-size="15.6" text-anchor="middle" y="5.6">100</text>
<rect x="211.00" y="452.4" width="32.74" height="13.1" fill="#313695" stroke="#222" stroke-width="0.6"/>
<rect x="243.74" y="452.4" width="32.74" height="13.1" fill="#4066ad" stroke="#222" stroke-width="0.6"/>
<rect x="276.47" y="452.4" width="32.74" height="13.1" fill="#5e93c4" stroke="#222" stroke-width="0.6"/>
<rect x="309.21" y="452.4" width="32.74" height="13.1" fill="#85bbd8" stroke="#222" stroke-width="0.6"/>
<rect x="341.94" y="452.4" width="32.74" height="13.1" fill="#afdbea" stroke="#222" stroke-width="0.6"/>
<rect x="374.68" y="452.4" width="32.74" height="13.1" fill="#d8eff6" stroke="#222" stroke-width="0.6"/>
<rect x="407.41" y="452.4" width="32.74" height="13.1" fill="#f3fad5" stroke="#222" stroke-width="0.6"/>
<rect x="440.15" y="452.4" width="32.74" height="13.1" fill="#fef0aa" stroke="#222" stroke-width="0.6"/>
<rect x="472.89" y="452.4" width="32.74" height="13.1" fill="#fed889" stroke="#222" stroke-width="0.6"/>
<rect x="505.62" y="452.4" width="32.74" height="13.1" fill="#fdb265" stroke="#222" stroke-width="0.6"/>
<rect x="538.36" y="452.4" width="32.74" height="13.1" fill="#f7814c" stroke="#222" stroke-width="0.6"/>
<rect x="571.09" y="452.4" width="32.74" height="13.1" fill="#e75136" stroke="#222" stroke-width="0.6"/>
<rect x="603.83" y="452.4" width="32.74" height="13.1" fill="#cb2527" stroke="#222" stroke-width="0.6"/>
<rect x="636.56" y="452.4" width="32.74" height="13.1" fill="#a50026" stroke="#222" stroke-width="0.6"/>
<text transform="translate(243.7 486.8) scale(0.995 1)" font-size="22.3" text-anchor="middle">0</text>
<text transform="translate(309.2 486.8) scale(0.995 1)" font-size="22.3" text-anchor="middle">50</text>
<text transform="translate(374.7 486.8) scale(0.995 1)" font-size="22.3" text-anchor="middle">100</text>
<text transform="translate(440.1 486.8) scale(0.995 1)" font-size="22.3" text-anchor="middle">150</text>
<text transform="translate(505.6 486.8) scale(0.995 1)" font-size="22.3" text-anchor="middle">200</text>
<text transform="translate(571.1 486.8) scale(0.995 1)" font-size="22.3" text-anchor="middle">250</text>
<text transform="translate(636.6 486.8) scale(0.995 1)" font-size="22.3" text-anchor="middle">300</text>
<text transform="translate(440.4 510.6) scale(1.009 1)" font-size="22.5" text-anchor="middle">Clear-Sky Net Longwave Radiation at Surface (Wm<tspan font-size="12.5" dy="-10">-2</tspan><tspan dy="10">)</tspan></text>
<text transform="translate(419.7 533.7) scale(1.017 1)" font-size="23.6" text-anchor="middle">October</text>
</g>
</svg>
</body>
</html>
